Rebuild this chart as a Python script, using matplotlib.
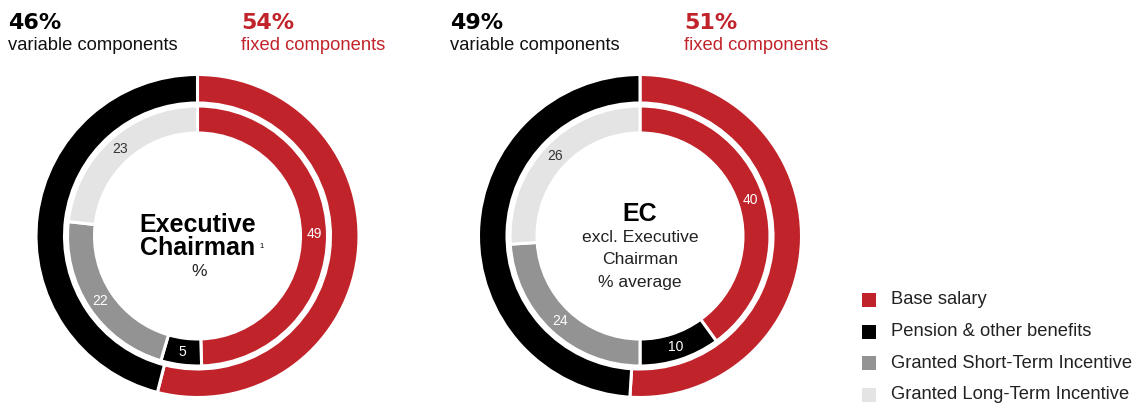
import numpy as np
import matplotlib
matplotlib.use("Agg")
import matplotlib.pyplot as plt

plt.rcParams["font.family"] = ["Liberation Sans", "DejaVu Sans"]

RED = "#c1232b"
BLACK = "#000000"
GREY = "#939393"
LIGHT = "#e4e4e4"

components = ["Base salary", "Pension & other benefits",
              "Granted Short-Term Incentive", "Granted Long-Term Incentive"]
component_colors = [RED, BLACK, GREY, LIGHT]

# inner ring: breakdown by component (%)
chairman_split = [49, 5, 22, 23]
ec_split = [40, 10, 24, 26]

# outer ring: fixed vs variable (%)
chairman_fixed_variable = [54, 46]
ec_fixed_variable = [51, 49]

W, H = 1133, 405
fig = plt.figure(figsize=(W / 100, H / 100), dpi=100)
ax = fig.add_axes([0, 0, 1, 1])


def py(y):
    # pixel row (top-down) -> data y (bottom-up)
    return H - y


def donut(cx, cy, split, fixed_variable):
    center = (cx, py(cy))
    ax.pie(fixed_variable, colors=[RED, BLACK], startangle=90, counterclock=False,
           center=center, radius=161.5,
           wedgeprops=dict(width=28.5, edgecolor="white", linewidth=2.2))
    wedges, _ = ax.pie(split, colors=component_colors, startangle=90, counterclock=False,
                       center=center, radius=130,
                       wedgeprops=dict(width=27, edgecolor="white", linewidth=2.2))
    r_lab = 116.5
    for w, v, c in zip(wedges, split, component_colors):
        ang = np.deg2rad((w.theta1 + w.theta2) / 2)
        ax.text(center[0] + r_lab * np.cos(ang), center[1] + r_lab * np.sin(ang),
                str(v), ha="center", va="center", fontsize=10,
                color="#333333" if c == LIGHT else "white")


donut(197.5, 236, chairman_split, chairman_fixed_variable)
donut(640, 236, ec_split, ec_fixed_variable)

BIG = dict(fontsize=16, fontweight="bold", family="DejaVu Sans", va="baseline")


def header(x, fixed_variable, xf):
    ax.text(x, py(29), f"{fixed_variable[1]}%", color=BLACK, **BIG)
    ax.text(x, py(50), "variable components", fontsize=13.2, color="#111111",
            va="baseline")
    ax.text(xf, py(29), f"{fixed_variable[0]}%", color=RED, **BIG)
    ax.text(xf, py(50), "fixed components", fontsize=13.2, color=RED, va="baseline")


header(8, chairman_fixed_variable, 241)
header(450, ec_fixed_variable, 684)

# centre captions
ax.text(198, py(225), "Executive", ha="center", va="center", fontsize=18,
        fontweight="bold")
ax.text(198, py(248), "Chairman", ha="center", va="center", fontsize=18,
        fontweight="bold")
ax.text(259, py(246), "1", ha="left", va="center", fontsize=5.5)
ax.text(199, py(271), "%", ha="center", va="center", fontsize=12.6, color="#222222")

ax.text(640, py(214), "EC", ha="center", va="center", fontsize=18, fontweight="bold")
for yy, s in [(237, "excl. Executive"), (260, "Chairman"), (283, "% average")]:
    ax.text(640, py(yy), s, ha="center", va="center", fontsize=12.6, color="#222222")

# legend
for i, (name, col) in enumerate(zip(components, component_colors)):
    yy = 300 + i * 31.5
    ax.add_patch(plt.Rectangle((862, py(yy) - 7), 14, 14, facecolor=col,
                               edgecolor="none"))
    ax.text(891, py(yy), name, va="center", fontsize=13.2, color="#222222")

ax.set_xlim(0, W)
ax.set_ylim(0, H)
ax.set_aspect("equal")
ax.axis("off")
fig.savefig("out.png", dpi=100)
